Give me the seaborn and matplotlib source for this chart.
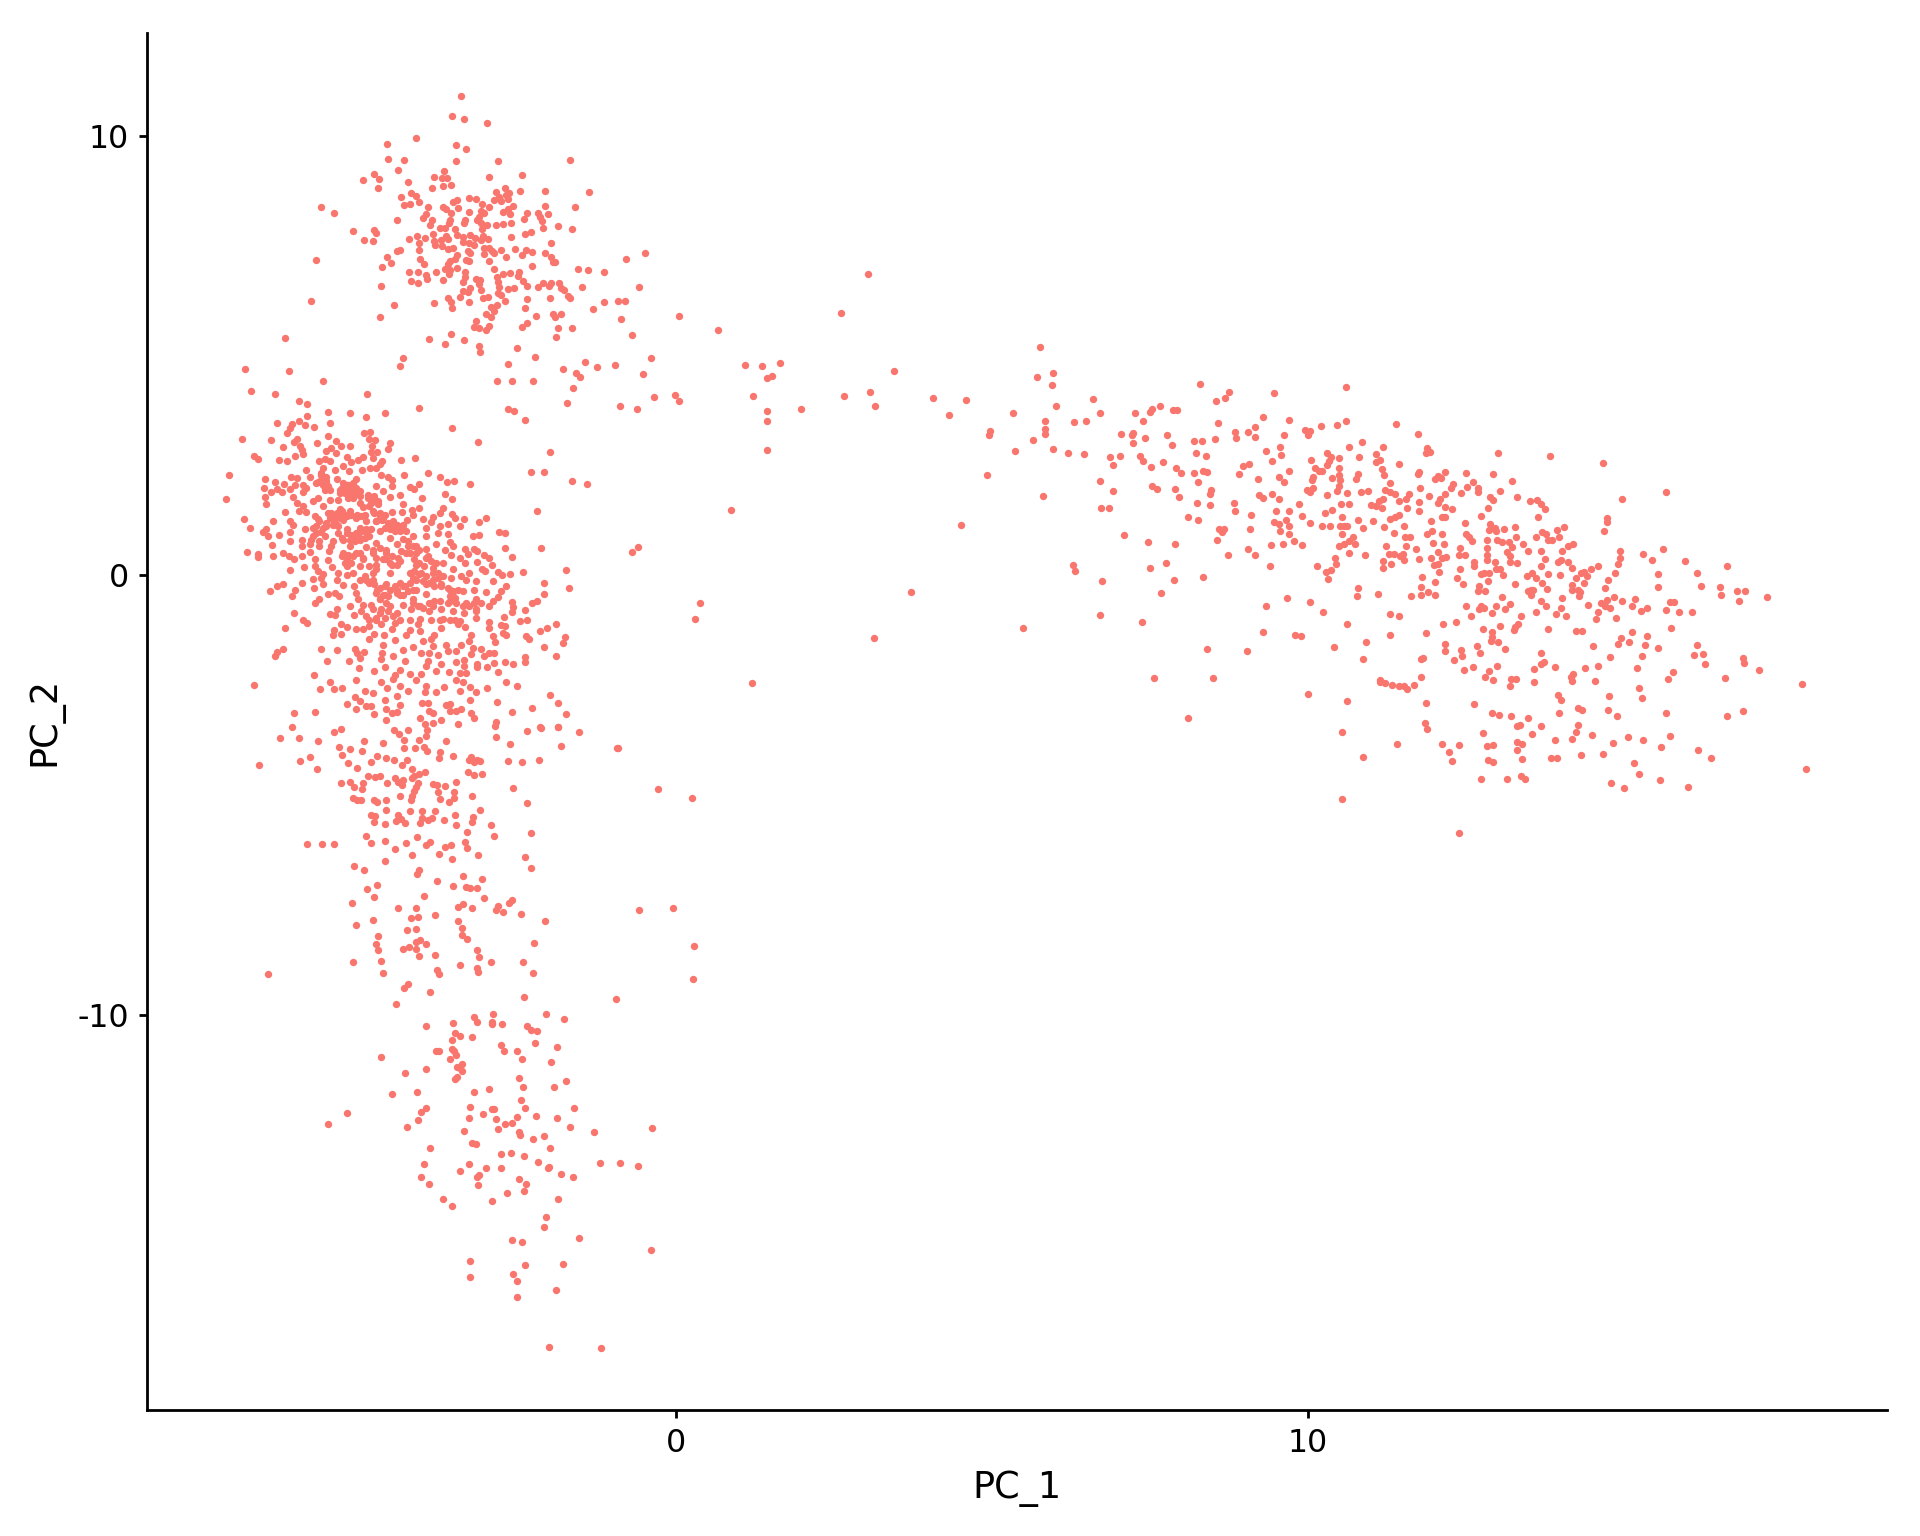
import matplotlib
matplotlib.use("Agg")
import matplotlib.pyplot as plt
import pandas as pd
import seaborn as sns

# (PC_1, PC_2), grouped by where the cells sit
top_cells = [
(-3.40,10.91),(-3.55,10.45),(-3.36,10.39),(-2.99,10.30),(-4.11,9.94),(-4.57,9.82),(-3.48,9.80),(-3.32,9.69),(-4.55,9.47),(-4.31,9.45),
(-3.48,9.42),(-2.82,9.42),(-1.68,9.44),(-4.40,9.23),(-3.67,9.20),(-4.78,9.14),(-2.43,9.10),(-2.96,9.07),(-3.82,9.06),(-3.70,9.03),
(-3.62,9.03),(-4.95,9.00),(-4.70,9.02),(-4.24,8.96),(-3.56,8.88),(-3.69,8.86),(-3.86,8.82),(-4.72,8.82),(-2.71,8.82),(-2.46,8.75),
(-2.07,8.75),(-1.37,8.71),(-2.85,8.72),(-2.64,8.70),(-2.69,8.66),(-4.19,8.69),(-4.12,8.64),(-4.35,8.60),(-2.80,8.60),(-2.65,8.56),
(-3.27,8.58),(-3.16,8.56),(-2.88,8.53),(-2.76,8.51),(-3.47,8.53),(-3.53,8.50),(-4.07,8.50),(-4.20,8.45),(-4.30,8.42),(-3.07,8.44),
(-2.57,8.41),(-2.07,8.41),(-3.92,8.38),(-3.69,8.38),(-2.95,8.38),(-5.61,8.37),(-3.44,8.36),(-1.59,8.37),(-5.41,8.25),(-3.64,8.34),
(-3.09,8.30),(-2.66,8.33),(-3.03,8.25),(-3.28,8.27),(-2.73,8.26),(-2.35,8.24),(-2.18,8.25),(-2.02,8.22),(-2.62,8.21),(-3.95,8.22),
(-3.56,8.24),(-4.00,8.14),(-3.86,8.09),(-4.41,8.09),(-3.33,8.09),(-3.11,8.16),(-3.14,8.09),(-3.57,8.09),(-2.15,8.16),(-2.40,8.10),
(-2.12,8.07),(-3.89,7.97),(-3.59,8.01),(-3.36,8.01),(-2.61,8.02),(-3.09,8.01),(-2.85,7.97),(-2.99,7.96),(-2.73,8.00),(-1.87,7.94),
(-3.74,7.91),(-2.10,7.90),(-3.66,7.90),(-3.49,7.89),(-3.06,7.87),(-1.64,7.87),(-4.77,7.85),(-5.11,7.84),(-4.75,7.78),(-2.30,7.81),
(-2.38,7.77),(-3.84,7.77),(-3.46,7.74),(-3.25,7.74),(-4.10,7.72),(-3.64,7.73),(-2.61,7.70),(-3.05,7.71),(-3.37,7.69),(-3.97,7.67),
(-2.97,7.66),(-3.18,7.67),(-3.61,7.65),(-4.22,7.65),(-4.93,7.62),(-4.79,7.60),(-3.83,7.61),(-3.71,7.63),(-3.37,7.58),(-3.08,7.62),
(-4.06,7.56),(-1.98,7.56),(-3.81,7.52),(-3.70,7.50),(-3.19,7.51),(-3.27,7.55),(-3.53,7.44),(-3.60,7.43),(-3.03,7.45),(-2.96,7.44),
(-4.06,7.40),(-4.37,7.40),(-4.41,7.37),(-2.76,7.40),(-2.55,7.43),(-0.49,7.34),(-3.29,7.38),(-3.26,7.33),(-2.91,7.38),(-2.88,7.33),
(-2.37,7.39),(-2.27,7.36),(-3.04,7.31),(-2.44,7.29),(-2.07,7.33),(-3.47,7.28),(-2.69,7.24),(-4.57,7.25),(-1.98,7.25),(-0.79,7.20),
(-4.05,7.20),(-3.50,7.19),(-3.32,7.17),(-3.27,7.15),(-2.96,7.14),(-1.95,7.13),(-1.91,7.13),(-5.69,7.17),(-3.58,7.16),(-4.51,7.11),
(-3.99,7.08),(-3.61,7.08),(-2.28,7.04),(-4.65,7.02),(-3.47,6.99),(-2.87,6.98),(-1.55,6.97),(-1.39,6.94),(-3.65,6.97),(-3.58,6.95),
(-4.08,6.91),(-4.22,6.89),(-3.80,6.91),(-3.33,6.91),(-1.13,6.90),(-2.74,6.86),(-2.63,6.87),(-2.48,6.90),(-3.59,6.85),(-3.95,6.84),
(-2.50,6.81),(-2.83,6.78),(-3.33,6.78),(-3.17,6.75),(-3.10,6.72),(-4.19,6.69),(-4.08,6.65),(-3.94,6.75),(-3.68,6.72),(-3.37,6.67),
(-2.42,6.69),(-2.82,6.67),(-2.11,6.66),(-1.98,6.66),(-1.85,6.64),(-4.67,6.59),(-3.12,6.63),(-2.35,6.59),(-2.01,6.59),(-1.48,6.56),
(-2.18,6.55),(-1.81,6.53),(-0.58,6.56),(-3.25,6.54),(-2.80,6.57),(-2.66,6.52),(-2.56,6.53),(-3.08,6.50),(-1.77,6.49),(-3.37,6.46),
(-2.82,6.43),(-3.29,6.44),(-3.42,6.34),(-1.70,6.36),(-2.76,6.37),(-2.97,6.34),(-3.05,6.31),(-3.61,6.31),(-1.99,6.31),(-1.68,6.31),
(-2.35,6.28),(-0.91,6.25),(-0.80,6.25),(-2.71,6.25),(-5.77,6.23),(-3.56,6.22),(-3.82,6.20),(-3.27,6.21),(-1.13,6.22),(-4.46,6.14),
(-2.83,6.14),(-2.92,6.10),(-3.54,6.07),(-2.38,6.07),(-1.31,6.05),(-2.88,6.02),(-1.95,5.94),(-1.82,5.94),(-3.01,5.94),(-2.21,5.91),
(0.05,5.91),(-4.68,5.88),(-2.92,5.88),(-1.91,5.87),(-0.87,5.83),(-3.16,5.78),(-2.35,5.75),(-3.19,5.65),(-2.96,5.67),(-2.44,5.65),
(-3.11,5.63),(-1.86,5.63),(-1.65,5.63),(-3.01,5.57),(-3.56,5.50),(-0.70,5.47),(-6.19,5.39),(-3.91,5.38),(-3.35,5.36),(-1.90,5.41),
(-3.65,5.26),(-3.11,5.22),(-2.52,5.18),(-3.10,5.09),(-2.23,4.97),(-0.39,4.95),(-4.32,4.94),(-4.37,4.76),(-1.43,4.86),(-2.65,4.81),
(-1.25,4.74),(-0.96,4.78),(-6.82,4.70),(-1.78,4.69),(-6.12,4.64),(-1.58,4.60),(-0.52,4.59),(-1.52,4.51),(-5.58,4.42),(-2.83,4.41),
(-2.59,4.43),(-2.26,4.41),(-1.62,4.27),(-6.72,4.19),(-6.35,4.13),(-4.89,4.13),(-0.02,4.10),(-0.34,4.06),(0.05,3.97),(-5.96,3.97),
(-5.84,3.89),(-1.72,3.91),(-0.89,3.86),(-4.07,3.80),(-2.66,3.78),(-2.56,3.74),(-0.61,3.78),(-5.50,3.72),(-5.15,3.69),(-4.60,3.68),
(-5.84,3.63),(-4.91,3.60),(-2.39,3.53),(-5.97,3.52),(-6.31,3.47),(-5.47,3.46),(-6.07,3.43),(-5.87,3.42),(-5.73,3.37),(-6.10,3.34),(-3.55,3.34),
]

core_cells = [
(-4.94,3.24),(-4.84,3.25),(-6.15,3.23),(-5.50,3.17),(-3.13,3.03),(-6.86,3.09),(-6.40,3.07),(-5.99,3.11),(-6.04,3.02),(-5.38,3.05),
(-4.85,3.10),(-4.76,3.07),(-5.68,3.00),(-5.30,2.95),(-5.16,2.95),(-4.53,3.00),(-4.81,2.93),(-4.55,2.87),(-6.22,2.91),(-5.95,2.93),
(-5.91,2.86),(-5.46,2.89),(-5.53,2.83),(-1.99,2.80),(-5.90,2.75),(-6.02,2.72),(-5.38,2.78),(-4.82,2.80),(-4.73,2.80),(-6.68,2.71),
(-6.61,2.64),(-6.28,2.63),(-6.15,2.60),(-5.21,2.69),(-4.95,2.69),(-5.03,2.63),(-4.35,2.62),(-4.13,2.66),(-5.64,2.60),(-5.56,2.64),
(-5.47,2.59),(-5.14,2.58),(-4.79,2.67),(-4.65,2.59),(-5.27,2.48),(-4.69,2.52),(-4.84,2.45),(-4.75,2.43),(-5.85,2.39),(-5.58,2.44),
(-5.40,2.40),(-5.18,2.37),(-4.97,2.40),(-3.92,2.32),(-2.29,2.35),(-2.09,2.35),(-7.08,2.27),(-6.51,2.20),(-6.09,2.23),(-5.99,2.21),
(-5.79,2.23),(-5.62,2.27),(-5.54,2.23),(-4.31,2.27),(-3.73,2.24),(-4.67,2.27),(-4.56,2.24),(-5.36,2.19),(-5.06,2.19),(-6.34,2.13),
(-3.62,2.11),(-3.51,2.14),(-1.65,2.14),(-1.41,2.08),(-3.26,2.07),(-4.50,2.17),(-6.20,2.08),(-6.03,2.06),(-5.90,2.06),(-5.69,2.10),
(-5.58,2.10),(-5.21,2.06),(-5.11,2.06),(-4.74,2.04),(-4.50,2.02),(-4.21,2.01),(-4.07,2.07),(-6.52,1.99),(-6.31,1.96),(-6.11,1.96),
(-5.85,1.99),(-5.53,2.02),(-4.14,1.97),(-6.41,1.89),(-6.24,1.90),(-5.90,1.89),(-5.32,1.95),(-5.21,1.91),(-5.00,1.91),(-4.64,1.91),
(-4.37,1.83),(-3.66,1.85),(-7.12,1.74),(-6.51,1.78),(-6.06,1.78),(-5.66,1.76),(-5.48,1.72),(-5.35,1.70),(-5.19,1.83),(-5.11,1.76),
(-4.87,1.76),(-4.77,1.81),(-4.53,1.78),(-4.01,1.75),(-3.55,1.73),(-6.48,1.63),(-6.00,1.64),(-5.74,1.68),(-5.00,1.64),(-4.82,1.64),
(-4.32,1.63),(-5.90,1.58),(-5.58,1.57),(-5.32,1.51),(-5.16,1.45),(-4.95,1.55),(-4.71,1.63),(-4.18,1.49),(-4.07,1.53),(-3.69,1.54),
(-5.96,1.45),(-5.85,1.43),(-6.19,1.44),(-5.50,1.42),(-4.79,1.45),(-4.69,1.42),(-4.49,1.43),(-4.33,1.43),(-3.73,1.42),(-3.55,1.40),
(-2.20,1.45),(-5.37,1.34),(-5.21,1.34),(-5.05,1.38),(-4.92,1.38),(-4.16,1.36),(-5.71,1.34),(-3.84,1.33),(-6.84,1.29),(-6.11,1.23),
(-5.66,1.27),(-5.42,1.25),(-5.27,1.25),(-4.64,1.30),(-4.48,1.23),(-4.26,1.25),(-4.00,1.27),(-3.50,1.30),(-3.35,1.29),(-3.00,1.30),
(-6.38,1.23),(-3.11,1.21),(-3.87,1.20),(-4.75,1.23),(-5.37,1.15),(-5.69,1.11),(-6.74,1.07),(-6.06,1.15),(-4.42,1.15),(-3.61,1.17),
(-3.41,1.13),(-6.48,1.05),(-5.87,1.06),(-5.74,1.08),(-5.53,1.11),(-5.21,1.04),(-5.00,1.08),(-4.69,1.00),(-4.53,1.08),(-4.32,1.04),
(-3.96,1.08),(-3.74,1.11),(-6.53,0.99),(-6.11,0.98),(-5.61,0.98),(-5.35,0.96),(-4.90,0.98),(-4.16,0.89),(-3.76,0.95),(-3.61,0.94),
(-2.80,0.99),(-2.71,0.96),(-3.21,0.90),(-3.11,0.92),(-6.45,0.89),(-6.28,0.91),(-5.74,0.89),(-5.11,0.89),(-4.53,0.85),(-4.32,0.83),
(-3.95,0.89),(-5.91,0.81),(-6.10,0.77),(-5.42,0.77),(-5.27,0.81),(-5.00,0.81),(-4.74,0.74),(-3.58,0.76),(-6.39,0.69),(-5.91,0.66),
(-5.79,0.70),(-5.64,0.66),(-5.45,0.66),(-5.16,0.66),(-4.90,0.64),(-4.42,0.70),(-4.24,0.66),(-4.11,0.66),(-3.79,0.70),(-3.53,0.67),
(-2.71,0.61),(-2.13,0.61),(-5.49,0.56),(-4.58,0.58),(-3.95,0.60),(-3.34,0.59),(-3.20,0.60),(-3.14,0.55),(-6.78,0.52),(-6.62,0.49),
(-6.22,0.51),(-5.79,0.52),(-5.27,0.51),(-5.06,0.51),(-4.79,0.51),(-4.27,0.51),(-4.11,0.51),(-3.66,0.58),(-3.56,0.47),(-3.29,0.49),
(-6.62,0.41),(-6.38,0.43),(-6.12,0.44),(-3.03,0.46),(-2.95,0.39),(-2.60,0.42),(-5.92,0.43),(-5.71,0.36),(-6.04,0.36),(-5.21,0.36),
(-4.95,0.39),(-4.58,0.36),(-4.37,0.32),(-3.95,0.39),(-3.41,0.39),(-5.51,0.35),(-3.14,0.30),(-3.34,0.27),(-2.91,0.24),(-3.69,0.28),
(-4.11,0.24),(-4.74,0.24),(-5.88,0.18),(-5.44,0.18),(-5.21,0.20),(-5.00,0.20),(-4.50,0.24),(-3.85,0.17),(-5.71,0.20),(-6.10,0.11),
(-5.66,0.09),(-3.52,0.13),(-3.07,0.13),(-3.02,0.10),(-2.42,0.08),(-1.74,0.12),(-5.35,0.05),(-5.11,0.05),(-4.79,0.05),(-4.53,0.04),
(-4.21,0.05),(-4.03,0.05),(-3.77,0.05),(-2.82,0.08),(-2.75,0.01),(-2.62,0.02),(-3.28,0.06),(-5.58,0.03),(-5.21,0.00),(-4.92,-0.02),
(-3.40,-0.02),(-5.74,-0.08),(-5.61,-0.06),(-5.37,-0.11),(-5.00,-0.10),(-4.79,-0.11),(-4.16,-0.06),(-3.85,-0.10),(-3.56,-0.07),(-3.32,-0.11),
(-3.16,-0.14),(-2.90,-0.14),(-5.92,-0.17),(-6.22,-0.20),(-5.59,-0.20),(-6.31,-0.24),(-5.27,-0.23),(-5.10,-0.25),(-4.58,-0.21),(-4.32,-0.25),
(-3.95,-0.21),(-3.71,-0.25),(-2.09,-0.18),(-2.68,-0.25),(-5.73,-0.30),(-6.02,-0.33),(-6.42,-0.36),(-4.73,-0.33),(-4.42,-0.33),(-4.11,-0.33),
(-3.58,-0.33),(-3.37,-0.36),(-3.20,-0.33),(-3.00,-0.39),(-1.69,-0.30),(-2.77,-0.36),(-5.50,-0.42),(-5.40,-0.40),(-5.33,-0.48),(-5.06,-0.40),
(-4.61,-0.44),(-4.37,-0.46),(-3.95,-0.42),(-3.53,-0.48),(-6.07,-0.48),(-2.08,-0.43),(-2.82,-0.49),(-5.03,-0.55),(-4.69,-0.55),(-4.16,-0.55),
(-3.82,-0.59),(-3.58,-0.59),(-3.16,-0.55),(-2.90,-0.59),(-2.59,-0.61),(-2.19,-0.58),(-5.65,-0.55),(-5.71,-0.64),(-2.28,-0.64),(-5.16,-0.70),
(-4.95,-0.67),(-4.82,-0.67),(-4.53,-0.70),(-4.32,-0.67),(-4.05,-0.70),(-3.37,-0.70),(-3.08,-0.64),(-2.96,-0.70),(-5.37,-0.76),(-4.98,-0.82),
(-4.66,-0.78),(-4.42,-0.86),(-4.19,-0.78),(-3.90,-0.82),(-3.71,-0.78),(-3.53,-0.82),(-3.16,-0.78),(-2.58,-0.73),(-2.38,-0.79),(-2.60,-0.83),
(-6.05,-0.85),(-5.47,-0.89),(-5.40,-0.91),(-5.10,-0.91),(-4.90,-0.93),(-4.74,-0.97),(-4.61,-0.97),(-4.37,-1.02),(-4.21,-1.01),(-4.05,-0.99),
(-3.87,-1.01),(-3.69,-0.99),(-3.50,-1.01),(-3.16,-0.97),(-2.72,-0.96),(-2.46,-1.04),(-2.36,-1.01),(-5.90,-1.03),(-5.84,-1.08),(-5.30,-1.10),
(-2.96,-1.07),(-1.90,-1.10),(-4.66,-1.12),(-4.45,-1.08),(-4.08,-1.12),(-3.45,-1.12),(-3.34,-1.18),(-2.76,-1.14),(-2.70,-1.16),(-6.19,-1.20),
(-5.21,-1.17),(-4.85,-1.16),(-4.49,-1.22),(-4.21,-1.25),(-4.05,-1.27),(-3.71,-1.20),(-2.95,-1.20),(-2.04,-1.20),(-2.15,-1.27),(-5.41,-1.25),
(-5.06,-1.23),(-4.95,-1.23),(-2.74,-1.31),(-5.30,-1.33),(-5.42,-1.37),(-4.77,-1.33),(-4.62,-1.36),(-4.27,-1.37),(-3.82,-1.35),(-3.24,-1.35),
(-2.90,-1.39),(-2.69,-1.37),(-2.37,-1.39),(-1.75,-1.41),(-4.86,-1.46),(-4.44,-1.48),(-4.00,-1.50),(-3.87,-1.46),(-3.27,-1.50),(-2.86,-1.51),
(-2.32,-1.46),(-1.79,-1.55),(-4.64,-1.60),(-3.64,-1.58),(-3.40,-1.58),(-5.61,-1.67),(-5.37,-1.70),(-5.07,-1.67),(-4.16,-1.63),(-4.32,-1.70),
(-3.85,-1.61),(-3.21,-1.65),(-3.08,-1.69),(-2.09,-1.63),(-6.22,-1.69),(-6.32,-1.75),(-6.34,-1.85),(-5.04,-1.77),(-4.93,-1.74),(-4.65,-1.77),
(-4.03,-1.77),(-3.90,-1.77),(-3.61,-1.73),(-3.48,-1.73),(-3.24,-1.80),(-2.95,-1.77),(-2.88,-1.77),(-4.47,-1.83),(-1.89,-1.83),(-3.03,-1.83),
(-5.00,-1.88),(-4.66,-1.90),(-3.77,-1.82),(-3.35,-1.92),(-2.38,-1.86),(-5.52,-1.96),(-5.18,-1.96),(-3.92,-1.95),(-2.70,-1.98),(-2.39,-1.98),
(-2.88,-1.99),(-2.58,-2.02),(-4.29,-1.95),(-3.48,-1.98),(-3.71,-2.01),(-3.15,-2.03),(-4.60,-2.09),(-5.02,-2.12),(-3.95,-2.07),(-2.99,-2.10),
(-3.35,-2.07),(-4.78,-2.17),(-4.37,-2.16),(-3.79,-2.18),(-3.59,-2.20),(-3.15,-2.09),(-2.82,-2.20),(-3.41,-2.23),(-3.32,-2.22),(-5.72,-2.28),
(-4.45,-2.28),(-4.21,-2.26),(-4.03,-2.26),(-5.06,-2.38),(-6.68,-2.51),(-4.67,-2.42),(-5.47,-2.42),(-4.48,-2.37),(-4.11,-2.39),(-3.48,-2.38),
(-3.37,-2.42),(-2.68,-2.44),(-2.51,-2.53),(-5.63,-2.60),(-5.41,-2.60),(-5.29,-2.57),(-4.37,-2.52),(-3.95,-2.52),(-3.67,-2.54),(-3.25,-2.54),
(-2.99,-2.56),(-4.57,-2.56),(-4.92,-2.64),(-4.79,-2.67),(-4.24,-2.64),(-3.97,-2.66),(-3.80,-2.66),(-3.42,-2.63),(-3.16,-2.66),(-5.08,-2.77),
(-4.42,-2.75),(-3.26,-2.83),(-4.60,-2.84),(-2.83,-2.88),(-1.99,-2.73),(-1.87,-2.91),(-5.20,-2.94),(-5.00,-2.86),(-4.37,-2.96),(-4.02,-2.91),
(-3.92,-2.90),(-3.64,-2.95),(-3.57,-2.94),(-5.06,-3.05),(-4.90,-2.98),(-4.82,-2.98),(-4.59,-3.05),(-3.57,-3.09),(-3.48,-3.08),(-3.40,-3.05),
(-2.28,-3.02),(-6.04,-3.14),(-5.71,-3.11),(-4.77,-3.17),(-4.50,-3.13),(-4.41,-3.11),(-3.90,-3.09),(-3.85,-3.13),(-3.24,-3.14),(-2.60,-3.12),
(-1.74,-3.17),(-4.58,-3.30),(-4.05,-3.24),(-3.20,-3.26),(-3.71,-3.30),(-3.97,-3.38),(-3.85,-3.36),(-3.45,-3.39),(-2.85,-3.34),(-2.86,-3.43),
(-6.08,-3.45),(-2.15,-3.45),(-1.87,-3.45),
]

# the solid clumps inside the left blob, where dots overlap
clump_cells = [
(-5.61,2.33),(-5.57,2.24),(-5.62,2.16),(-5.54,2.14),(-5.59,2.06),(-5.50,2.04),(-5.66,2.11),(-5.56,1.95),(-5.48,1.95),(-5.27,2.10),
(-5.19,2.06),(-5.11,2.10),(-5.29,1.99),(-5.21,1.96),(-5.14,1.96),(-5.06,1.99),(-5.24,1.86),(-5.16,1.83),(-5.08,1.86),(-5.00,1.80),
(-5.19,1.76),(-5.32,1.87),(-4.87,1.83),(-4.79,1.76),(-4.71,1.68),(-4.85,1.57),(-5.45,1.42),(-5.37,1.42),(-5.29,1.45),(-5.48,1.30),
(-5.40,1.27),(-5.32,1.30),(-5.24,1.36),(-5.42,1.15),(-5.35,1.11),(-5.53,1.19),(-5.64,1.23),(-5.58,1.08),(-5.14,1.38),(-5.06,1.30),
(-4.98,1.34),(-4.90,1.23),(-4.77,1.42),(-4.69,1.34),(-4.61,1.36),(-4.74,1.23),(-4.65,1.25),(-4.56,1.19),(-4.48,1.15),(-4.40,1.11),
(-4.32,1.15),(-4.53,1.05),(-4.45,1.00),(-4.37,1.00),(-4.61,1.08),(-4.27,1.00),(-5.21,0.96),(-5.14,0.92),(-5.06,0.96),(-4.98,1.00),
(-4.90,1.04),(-5.16,0.80),(-5.08,0.77),(-5.00,0.85),(-4.92,0.85),(-4.85,0.89),(-5.29,0.85),(-4.82,1.04),(-5.69,0.96),(-5.56,0.89),
(-5.77,0.81),(-5.64,0.77),(-5.29,0.43),(-5.19,0.47),(-5.11,0.43),(-5.00,0.51),(-5.24,0.28),(-5.14,0.28),(-4.95,0.36),(-4.79,0.58),
(-4.69,0.62),(-4.58,0.51),(-4.50,0.43),(-4.40,0.39),(-4.74,0.39),(-4.64,0.36),(-4.53,0.28),(-4.42,0.24),(-4.85,0.20),(-4.74,0.13),
(-4.35,0.55),(-4.24,0.77),(-4.16,0.66),(-4.06,0.58),(-3.92,0.43),(-4.21,0.51),(-4.14,0.36),(-4.06,0.28),(-3.98,0.20),(-3.87,0.32),
(-3.79,0.28),(-4.14,0.09),(-4.06,0.02),(-3.95,-0.02),(-3.85,0.05),(-3.77,-0.06),(-3.69,-0.02),(-3.90,-0.17),(-3.82,-0.25),(-3.71,-0.21),
(-4.11,-0.10),(-4.00,-0.14),(-4.77,-0.21),(-4.69,-0.29),(-4.61,-0.25),(-4.53,-0.33),(-4.45,-0.25),(-4.37,-0.17),(-4.29,-0.25),(-4.21,-0.17),
(-4.74,-0.40),(-4.64,-0.44),(-4.56,-0.48),(-4.42,-0.40),(-4.32,-0.44),(-4.24,-0.36),(-4.69,-0.55),(-4.58,-0.63),(-4.16,-0.33),(-3.61,-0.29),
(-3.53,-0.36),(-3.45,-0.33),(-3.58,-0.48),(-3.50,-0.51),(-3.61,-0.63),(-3.48,-0.63),(-3.27,-0.70),(-3.19,-0.63),(-3.32,-0.63),(-3.16,-0.82),
(-3.35,-0.86),(-4.16,-0.63),(-4.08,-0.70),(-4.00,-0.74),(-3.90,-0.63),(-3.85,-0.70),(-3.74,-0.59),(-4.79,-0.78),(-4.69,-0.86),(-4.56,-0.82),
(-4.48,-0.93),(-4.85,-1.01),(-4.74,-1.01),(-3.74,-1.01),(-3.58,-1.01),(-3.42,-1.05),(-4.90,-0.10),(-4.85,-0.17),
]

tail_cells = [
(-6.27,-3.71),(-5.97,-3.70),(-5.66,-3.77),(-5.41,-3.56),(-5.30,-3.51),(-4.46,-3.53),(-4.38,-3.61),(-4.24,-3.52),(-3.94,-3.52),(-3.95,-3.65),
(-4.31,-3.74),(-4.07,-3.75),(-3.64,-3.77),(-4.93,-3.78),(-4.64,-3.81),(-2.84,-3.68),(-2.35,-3.54),(-2.14,-3.47),(-1.86,-3.45),(-1.53,-3.57),
(-2.63,-3.85),(-1.82,-3.89),(-0.93,-3.94),(-5.33,-3.92),(-5.15,-3.96),(-4.96,-4.00),(-4.31,-3.93),(-4.13,-3.93),(-3.98,-3.90),(-3.94,-4.01),
(-3.73,-4.02),(-3.53,-4.11),(-3.75,-4.16),(-5.29,-4.10),(-4.73,-4.12),(-4.59,-4.16),(-4.46,-4.21),(-4.26,-4.21),(-5.79,-4.13),(-5.95,-4.24),
(-4.82,-4.25),(-5.19,-4.28),(-4.33,-4.31),(-3.28,-4.20),(-3.24,-4.14),(-3.20,-4.25),(-3.14,-4.20),(-3.10,-4.24),(-2.66,-4.23),(-2.44,-4.26),
(-2.16,-4.20),(-6.59,-4.32),(-5.68,-4.42),(-5.05,-4.39),(-4.17,-4.40),(-3.29,-4.49),(-3.20,-4.54),(-3.06,-4.53),(-3.97,-4.47),(-4.06,-4.52),
(-4.15,-4.56),(-4.18,-4.62),(-4.69,-4.56),(-4.76,-4.60),(-4.87,-4.57),(-4.45,-4.62),(-4.32,-4.66),(-4.40,-4.71),(-4.34,-4.77),(-4.57,-4.74),
(-5.16,-4.70),(-5.30,-4.74),(-4.95,-4.74),(-4.96,-4.86),(-5.09,-4.83),(-4.08,-4.74),(-4.11,-4.83),(-4.15,-4.92),(-4.17,-5.02),(-4.19,-5.12),
(-3.85,-4.76),(-3.78,-4.77),(-3.65,-4.80),(-3.48,-4.71),(-3.77,-4.93),(-3.51,-4.93),(-3.51,-5.06),(-3.73,-5.09),(-3.59,-5.16),(-4.36,-5.03),
(-3.22,-5.02),(-2.57,-4.85),(-2.36,-5.19),(-5.11,-5.06),(-5.05,-5.12),(-4.98,-5.12),(-4.78,-5.12),(-4.73,-5.16),(-4.58,-5.12),(-4.59,-5.34),
(-4.21,-5.36),(-4.01,-5.36),(-3.81,-5.37),(-3.10,-5.34),(-4.82,-5.46),(-4.76,-5.48),(-4.40,-5.46),(-3.50,-5.45),(-3.21,-5.50),(-4.02,-5.53),
(-3.93,-5.58),(-3.86,-5.53),(-3.67,-5.57),(-4.43,-5.60),(-4.35,-5.56),(-4.28,-5.64),(-4.78,-5.62),(-4.61,-5.66),(-4.05,-5.65),(-3.48,-5.68),
(-3.22,-5.62),(-2.92,-5.68),(-3.30,-5.84),(-2.29,-5.87),(-4.91,-5.93),(-2.87,-5.93),(-4.09,-5.97),(-5.84,-6.12),(-5.60,-6.12),(-5.41,-6.11),
(-4.82,-6.09),(-4.61,-6.05),(-4.27,-6.09),(-3.89,-6.07),(-3.95,-6.15),(-3.34,-6.07),(-3.56,-6.13),(-3.65,-6.18),(-3.31,-6.20),(-4.44,-6.23),
(-3.75,-6.34),(-4.18,-6.37),(-3.13,-6.37),(-3.54,-6.46),(-2.38,-6.42),(-2.29,-6.67),(-4.60,-6.50),(-5.09,-6.63),(-4.94,-6.70),(-4.07,-6.71),
(-4.09,-6.81),(-3.37,-6.84),(-3.07,-6.92),(-3.78,-6.96),(-4.73,-7.06),(-4.89,-7.14),(-3.53,-7.08),(-3.32,-7.09),(-3.25,-7.13),(-3.14,-7.12),
(-4.77,-7.32),(-3.98,-7.31),(-3.04,-7.35),(-2.60,-7.39),(-2.64,-7.47),(-5.13,-7.47),(-3.37,-7.49),(-3.45,-7.56),(-3.22,-7.58),(-4.39,-7.57),
(-4.11,-7.58),(-2.82,-7.54),(-2.84,-7.61),(-2.73,-7.66),(-2.45,-7.71),(-3.81,-7.73),(-0.59,-7.62),(-4.19,-7.81),(-4.08,-7.79),(-4.80,-7.84),
(-3.45,-7.86),(-2.07,-7.87),(-5.06,-7.96),(-4.25,-8.07),(-4.11,-8.05),(-3.38,-8.03),(-3.38,-8.20),(-4.71,-8.22),(-3.31,-8.29),(-4.12,-8.34),
(-4.05,-8.31),(-3.96,-8.39),(-2.24,-8.37),(-4.75,-8.39),(-4.32,-8.50),(-4.22,-8.47),(-4.12,-8.50),(-4.72,-8.52),(-3.15,-8.52),(-3.81,-8.65),
(-4.06,-8.67),(-3.11,-8.70),(-5.11,-8.80),(-4.66,-8.77),(-2.92,-8.81),(-2.42,-8.81),(-3.42,-8.88),(-3.14,-8.93),(-3.78,-8.99),(-3.75,-9.07),
(-3.13,-9.04),(-6.46,-9.07),(-4.63,-9.05),(-2.26,-9.06),(-4.24,-9.30),(-4.31,-9.40),(-3.89,-9.49),(-2.40,-9.59),(-0.94,-9.65),(-4.43,-9.75),
(-3.20,-10.05),(-2.90,-9.99),(-2.05,-9.98),(-1.77,-10.10),(-3.95,-10.25),(-3.52,-10.20),(-3.15,-10.18),(-2.91,-10.18),(-2.91,-10.21),(-2.75,-10.21),
(-2.36,-10.26),(-2.29,-10.35),(-2.19,-10.38),(-3.49,-10.41),(-3.42,-10.49),(-3.22,-10.50),(-3.55,-10.57),(-2.23,-10.64),(-1.88,-10.73),(-2.77,-10.69),
(-3.80,-10.83),(-3.75,-10.82),(-3.55,-10.79),(-3.51,-10.83),(-3.48,-10.91),(-2.72,-10.84),(-2.52,-10.83),(-4.66,-10.97),(-3.58,-11.02),(-2.44,-11.00),
(-1.97,-11.09),(-3.39,-11.12),(-3.46,-11.19),(-3.42,-11.21),(-3.39,-11.29),(-3.96,-11.24),(-4.28,-11.34),(-3.47,-11.41),(-3.49,-11.47),(-2.49,-11.44),
(-1.74,-11.52),(-2.42,-11.65),(-1.93,-11.65),(-2.95,-11.70),(-3.19,-11.77),(-4.10,-11.77),(-4.50,-11.81),(-2.45,-11.94),(-3.26,-12.10),(-3.95,-12.13),
(-4.04,-12.22),(-2.91,-12.14),(-2.88,-12.16),(-2.39,-12.13),(-1.61,-12.12),(-5.21,-12.25),(-2.22,-12.30),(-3.05,-12.26),(-3.28,-12.35),(-2.85,-12.37),
(-2.52,-12.33),(-1.88,-12.36),(-4.08,-12.39),(-5.51,-12.49),(-2.70,-12.50),(-2.59,-12.47),(-4.25,-12.56),(-1.67,-12.55),(-0.37,-12.58),(-2.81,-12.61),
(-3.36,-12.65),(-1.29,-12.68),(-2.49,-12.67),(-2.47,-12.74),(-2.09,-12.76),(-2.26,-12.84),(-3.22,-12.93),(-3.16,-12.94),(-3.89,-13.04),(-1.99,-13.04),
(-2.77,-13.18),(-2.61,-13.16),(-2.41,-13.23),(-2.18,-13.35),(-1.20,-13.37),(-0.88,-13.38),(-0.60,-13.44),(-3.99,-13.40),(-3.27,-13.41),(-3.00,-13.49),
(-2.76,-13.50),(-2.00,-13.46),(-2.03,-13.50),(-3.41,-13.57),(-1.82,-13.62),(-1.63,-13.69),(-3.12,-13.66),(-3.14,-13.70),(-4.03,-13.70),(-2.49,-13.75),
(-3.91,-13.86),(-3.13,-13.87),(-2.37,-13.86),(-2.41,-14.01),(-2.67,-14.05),(-3.69,-14.20),(-1.87,-14.20),(-2.91,-14.24),(-3.55,-14.35),(-2.05,-14.61),
(-2.08,-14.83),(-1.54,-15.08),(-2.59,-15.14),(-2.44,-15.18),(-0.40,-15.36),(-3.26,-15.62),(-2.38,-15.71),(-1.78,-15.67),(-2.58,-15.91),(-3.25,-15.97),
(-2.52,-16.07),(-1.89,-16.28),(-2.51,-16.42),(-2.01,-17.56),(-1.18,-17.58),
]

bridge_cells = [
(0.66,5.57),(1.10,4.79),(1.36,4.76),(1.65,4.82),(1.45,4.48),(1.53,4.54),(1.22,4.07),(1.45,3.73),(1.45,3.51),(1.98,3.79),
(1.45,2.84),(2.66,4.07),(2.62,5.96),(3.04,6.85),(3.08,4.18),(3.16,3.84),(3.45,4.65),(4.07,4.04),(4.32,3.65),(4.59,3.98),
(0.87,1.48),(0.39,-0.64),(0.31,-1.00),(1.20,-2.45),(3.72,-0.39),(3.14,-1.42),(4.52,1.14),(0.25,-5.07),(-0.29,-4.87),(-0.04,-7.58),
(0.29,-8.44),(0.27,-9.19),(-0.91,-3.93),(-0.70,0.53),(-0.60,0.64),(4.96,3.20),(4.98,3.29),(4.92,2.28),
]

right_cells = [
(5.76,5.20),(5.97,4.60),(5.71,4.50),(5.96,4.32),(8.30,4.35),(8.75,4.17),(8.55,3.97),(8.69,4.03),(9.46,4.14),(10.60,4.29),
(6.61,4.01),(6.01,3.85),(7.67,3.85),(7.54,3.78),(7.50,3.71),(7.94,3.77),(7.87,3.75),(7.27,3.68),(6.71,3.70),(5.33,3.68),
(9.29,3.60),(9.71,3.53),(5.85,3.50),(6.30,3.49),(6.49,3.51),(7.40,3.52),(8.58,3.46),(10.60,3.50),(10.47,3.41),(10.21,3.39),
(11.40,3.44),(9.16,3.38),(5.84,3.33),(5.85,3.22),(9.96,3.30),(10.04,3.28),(10.00,3.18),(9.05,3.26),(8.85,3.26),(7.05,3.22),
(7.23,3.24),(7.22,3.19),(7.78,3.20),(9.62,3.18),(9.16,3.15),(11.75,3.21),(7.42,3.13),(8.86,3.13),(8.54,3.10),(5.65,3.08),
(8.20,3.06),(8.33,3.06),(7.24,3.00),(7.86,2.97),(10.86,3.02),(9.56,2.91),(10.65,2.91),(11.20,2.92),(11.89,2.89),(5.97,2.88),
(5.37,2.83),(6.20,2.78),(9.34,2.83),(6.46,2.75),(8.23,2.78),(11.88,2.78),(11.93,2.80),(9.58,2.74),(6.87,2.70),(7.03,2.72),
(7.35,2.72),(8.39,2.71),(10.30,2.77),(11.09,2.75),(10.37,2.69),(10.49,2.66),(10.81,2.69),(11.15,2.63),(9.43,2.61),(10.06,2.62),
(7.40,2.60),(7.71,2.58),(10.34,2.60),(11.09,2.57),(9.07,2.53),(8.97,2.49),(6.92,2.50),(10.31,2.50),(11.45,2.53),(7.52,2.46),
(7.91,2.44),(10.11,2.44),(10.50,2.44),(11.18,2.41),(9.70,2.37),(10.18,2.37),(10.22,2.37),(8.34,2.36),(8.40,2.34),(7.99,2.32),
(8.20,2.32),(10.79,2.31),(11.77,2.35),(11.74,2.30),(11.21,2.29),(12.18,2.34),(8.91,2.30),(9.54,2.23),(10.38,2.22),(10.49,2.27),
(12.06,2.25),(12.11,2.22),(12.02,2.18),(10.77,2.18),(9.21,2.20),(10.09,2.24),(10.07,2.16),(6.71,2.15),(9.63,2.11),(8.27,2.12),
(10.51,2.16),(11.30,2.09),(10.50,2.03),(11.78,1.99),(7.54,2.02),(7.61,1.96),(7.90,1.96),(10.09,1.98),(9.99,1.95),(8.47,1.94),
(6.92,1.91),(10.04,1.89),(10.47,1.91),(10.84,1.89),(10.96,1.91),(11.23,1.94),(11.30,1.89),(10.63,1.87),(11.38,1.85),(5.81,1.81),
(8.45,1.84),(9.23,1.83),(9.44,1.85),(10.30,1.83),(11.61,1.84),(11.92,1.80),(9.30,1.75),(9.55,1.74),(7.96,1.77),(11.20,1.74),
(12.18,1.84),(11.55,1.73),(12.09,1.73),(11.45,1.68),(11.76,1.67),(11.13,1.69),(12.07,1.65),(8.25,1.64),(8.45,1.60),(8.84,1.64),
(9.86,1.61),(10.53,1.61),(10.66,1.63),(11.00,1.60),(11.08,1.57),(11.18,1.53),(6.73,1.54),(6.85,1.53),(11.57,1.53),(12.17,1.56),
(11.76,1.47),(8.85,1.47),(9.50,1.47),(9.70,1.47),(10.39,1.48),(10.28,1.41),(9.10,1.37),(11.45,1.37),(11.38,1.33),(11.30,1.29),
(12.13,1.32),(12.18,1.33),(8.10,1.33),(9.91,1.34),(10.54,1.32),(8.27,1.25),(10.80,1.25),(11.04,1.24),(9.66,1.25),(11.95,1.23),
(9.47,1.20),(9.55,1.17),(10.04,1.19),(11.52,1.12),(10.51,1.13),(10.57,1.13),(10.63,1.12),(10.36,1.13),(10.22,1.11),(9.70,1.11),
(11.21,1.09),(10.88,1.07),(9.09,1.05),(8.59,1.04),(8.67,1.05),(9.57,1.01),(8.65,0.98),(11.97,1.00),(12.12,0.94),(11.37,0.96),
(11.89,0.93),(10.55,0.94),(9.71,0.94),(7.10,0.91),(10.72,0.88),(11.54,0.87),(11.62,0.88),(8.56,0.81),(9.78,0.78),(7.48,0.75),
(7.90,0.72),(11.98,0.74),(12.16,0.72),(10.66,0.78),(10.58,0.71),(10.50,0.66),(9.42,0.69),(9.61,0.70),(9.91,0.69),(10.75,0.71),
(11.56,0.67),(11.24,0.66),(11.71,0.60),(9.06,0.60),(12.07,0.52),(8.74,0.46),(9.17,0.46),(10.66,0.50),(10.91,0.46),(11.29,0.48),
(11.36,0.48),(11.51,0.49),(11.46,0.44),(10.43,0.38),(11.19,0.33),(11.52,0.34),(11.77,0.36),(11.95,0.38),(12.13,0.38),(12.19,0.41),
(6.28,0.24),(7.76,0.28),(11.32,0.25),(10.45,0.25),(10.15,0.22),(12.00,0.24),(12.07,0.25),(7.50,0.16),(9.40,0.20),(11.20,0.16),
(6.32,0.09),(10.37,0.12),(10.29,0.08),(12.08,0.08),(8.34,-0.05),(6.74,-0.13),(7.88,-0.12),(10.33,-0.09),(11.81,-0.04),(12.02,-0.16),
(11.80,-0.28),(10.79,-0.30),(7.68,-0.41),(11.11,-0.42),(11.91,-0.38),(11.80,-0.44),(12.01,-0.44),(10.78,-0.48),(11.64,-0.48),(9.68,-0.53),
(10.04,-0.62),(9.34,-0.71),(10.24,-0.84),(6.72,-0.90),(11.30,-0.89),(11.44,-0.94),(7.38,-1.06),(10.62,-1.10),(5.50,-1.20),(12.15,-1.12),
(9.29,-1.29),(9.80,-1.37),(9.89,-1.39),(11.88,-1.31),(11.31,-1.36),(10.93,-1.52),(12.18,-1.57),(10.41,-1.63),(8.40,-1.69),(9.04,-1.72),
(12.18,-1.72),(10.87,-1.91),(11.79,-1.90),(11.82,-1.88),(7.57,-2.33),(8.50,-2.33),(11.80,-2.31),(11.14,-2.38),(8.10,-3.26),(10.00,-2.70),
(10.62,-2.87),(10.54,-3.57),(10.54,-5.10),(11.34,-2.51),(11.53,-2.53),(11.22,-2.45),(11.86,-3.37),
]

far_right_cells = [
(13.02,2.78),(13.84,2.71),(14.68,2.56),(15.68,1.89),(12.51,2.33),(12.93,2.30),(13.23,2.15),(12.62,2.12),(12.30,2.07),(12.27,1.98),
(12.52,2.01),(12.70,1.98),(12.69,1.89),(13.04,1.91),(12.42,1.88),(14.98,1.73),(13.31,1.78),(12.89,1.78),(12.94,1.70),(13.52,1.69),
(13.63,1.72),(13.69,1.63),(12.28,1.50),(12.85,1.52),(13.75,1.50),(12.74,1.35),(13.64,1.32),(14.74,1.31),(14.74,1.20),(12.49,1.18),
(12.88,1.16),(13.28,1.10),(14.05,1.10),(12.96,1.07),(13.11,1.05),(12.87,1.03),(12.98,1.01),(13.95,1.02),(14.69,1.00),(13.71,0.99),
(13.77,0.94),(12.50,0.94),(12.55,0.88),(13.98,0.88),(13.61,0.88),(13.30,0.87),(12.60,0.78),(12.84,0.79),(13.00,0.81),(13.08,0.76),
(13.19,0.75),(13.80,0.81),(13.86,0.80),(14.20,0.70),(14.12,0.66),(13.41,0.70),(13.24,0.64),(12.84,0.63),(12.41,0.62),(15.62,0.59),
(13.49,0.56),(13.70,0.55),(14.03,0.55),(14.94,0.54),(15.31,0.48),(13.15,0.52),(12.49,0.47),(12.84,0.47),(12.40,0.46),(13.21,0.43),
(14.95,0.38),(15.45,0.35),(15.97,0.33),(13.75,0.36),(14.01,0.35),(12.84,0.35),(12.97,0.30),(14.12,0.31),(13.97,0.29),(13.21,0.29),
(13.31,0.27),(12.63,0.29),(14.91,0.26),(12.63,0.21),(16.63,0.21),(13.69,0.20),(14.59,0.22),(14.48,0.15),(14.18,0.16),(12.41,0.13),
(12.98,0.13),(13.05,0.14),(14.37,0.07),(14.32,0.05),(14.87,0.05),(16.17,0.06),(12.87,0.06),(12.79,0.05),(12.74,0.03),(13.55,0.05),
(13.80,0.02),(15.55,0.02),(13.10,0.01),(14.00,0.00),(13.47,-0.01),(13.61,-0.06),(14.42,-0.01),(14.24,-0.06),(12.36,-0.06),(14.76,-0.10),
(12.46,-0.19),(12.85,-0.14),(13.71,-0.18),(14.37,-0.18),(14.19,-0.22),(13.29,-0.20),(15.54,-0.26),(16.22,-0.25),(16.52,-0.28),(14.71,-0.30),
(12.71,-0.24),(14.18,-0.33),(13.79,-0.32),(13.53,-0.33),(13.48,-0.37),(13.57,-0.34),(12.70,-0.35),(12.80,-0.35),(14.28,-0.33),(16.79,-0.36),
(16.92,-0.37),(13.53,-0.44),(14.31,-0.39),(14.29,-0.47),(16.55,-0.46),(13.07,-0.50),(14.03,-0.52),(17.27,-0.50),(14.85,-0.49),(15.18,-0.54),
(14.97,-0.58),(16.83,-0.58),(13.70,-0.59),(14.74,-0.56),(14.64,-0.64),(15.73,-0.62),(15.80,-0.62),(14.43,-0.68),(13.21,-0.65),(13.78,-0.70),
(12.50,-0.70),(12.98,-0.71),(12.74,-0.69),(14.71,-0.69),(14.01,-0.75),(15.14,-0.70),(15.37,-0.74),(14.78,-0.74),(12.79,-0.75),(12.71,-0.77),
(13.12,-0.77),(15.68,-0.80),(15.88,-0.83),(16.08,-0.84),(15.28,-0.82),(13.62,-0.84),(14.60,-0.84),(13.93,-0.88),(12.92,-0.87),(14.09,-0.92),
(13.38,-0.93),(12.58,-0.92),(14.57,-1.00),(14.88,-0.97),(12.35,-1.06),(13.33,-1.12),(13.05,-1.15),(13.29,-1.18),(13.27,-1.25),(15.75,-1.21),
(12.78,-1.23),(13.81,-1.22),(14.25,-1.28),(14.34,-1.27),(15.13,-1.29),(12.92,-1.30),(12.92,-1.40),(15.37,-1.39),(14.96,-1.42),(15.09,-1.53),
(14.92,-1.56),(12.90,-1.50),(13.02,-1.51),(15.34,-1.59),(16.17,-1.59),(12.68,-1.62),(14.52,-1.62),(15.54,-1.66),(13.13,-1.68),(12.43,-1.71),
(13.70,-1.76),(12.73,-1.78),(12.45,-1.84),(16.12,-1.81),(16.25,-1.79),(15.30,-1.84),(14.78,-1.87),(16.89,-1.88),(12.32,-1.93),(13.74,-1.97),
(13.69,-2.03),(16.90,-2.00),(16.29,-2.03),(13.00,-2.06),(12.62,-2.09),(13.92,-2.09),(14.60,-2.07),(14.39,-2.12),(15.21,-2.11),(12.47,-2.15),
(13.58,-2.14),(12.87,-2.19),(17.14,-2.16),(14.20,-2.24),(15.78,-2.21),(14.17,-2.32),(12.80,-2.31),(16.60,-2.34),(15.70,-2.36),(13.22,-2.37),
(13.30,-2.37),(12.94,-2.39),(14.55,-2.40),(14.18,-2.41),(13.59,-2.43),(13.21,-2.52),(17.82,-2.47),(15.25,-2.56),(11.14,-2.43),(11.45,-2.52),
(11.58,-2.58),(11.69,-2.51),(13.97,-2.72),(14.01,-2.84),(14.77,-2.75),(15.29,-2.79),(11.88,-2.90),(12.63,-2.94),(14.76,-3.06),(14.28,-3.03),
(14.34,-3.07),(12.92,-3.14),(13.03,-3.18),(13.98,-3.14),(15.68,-3.13),(16.63,-3.20),(16.89,-3.09),(14.90,-3.21),(13.22,-3.21),(13.48,-3.26),
(13.31,-3.43),(13.36,-3.40),(13.69,-3.44),(14.28,-3.42),(11.89,-3.50),(14.25,-3.57),(12.77,-3.59),(13.55,-3.61),(14.50,-3.63),(15.74,-3.66),
(15.07,-3.68),(14.18,-3.72),(15.31,-3.74),(13.92,-3.76),(11.41,-3.84),(12.13,-3.85),(13.32,-3.79),(13.39,-3.84),(14.83,-3.81),(12.39,-3.87),
(12.84,-3.88),(12.93,-3.86),(15.60,-3.90),(13.31,-3.97),(16.18,-3.99),(12.24,-4.03),(14.32,-4.09),(14.68,-4.08),(10.88,-4.14),(16.39,-4.15),
(13.85,-4.17),(13.95,-4.17),(13.40,-4.19),(12.28,-4.22),(12.85,-4.20),(12.93,-4.25),(15.17,-4.27),(15.24,-4.52),(17.89,-4.40),(13.37,-4.56),
(13.44,-4.65),(13.15,-4.64),(12.75,-4.65),(14.80,-4.72),(15.58,-4.67),(15.01,-4.84),(16.02,-4.81),(12.39,-5.86),
]

x_ticks = [0, 10]
y_ticks = [-10, 0, 10]

cells = pd.DataFrame(top_cells + core_cells + clump_cells + tail_cells + bridge_cells + right_cells + far_right_cells,
                     columns=["PC_1", "PC_2"])

sns.set_style("ticks")
plt.rcParams["axes.unicode_minus"] = False

fig = plt.figure(figsize=(9.6, 7.68), dpi=200)
ax = fig.add_axes([147 / 1920, 1 - 1410 / 1536, (1887 - 147) / 1920, (1410 - 33) / 1536])

sns.scatterplot(data=cells, x="PC_1", y="PC_2", color="#F8766D", s=7, linewidth=0, ax=ax)

ax.set_xlim(-8.37, 19.17)
ax.set_ylim(-19.0, 12.34)
ax.set_xticks(x_ticks)
ax.set_yticks(y_ticks)
ax.tick_params(labelsize=11.4, length=3, width=1, color="black", labelcolor="black")
ax.set_xlabel("PC_1", fontsize=13.2, color="black")
ax.set_ylabel("PC_2", fontsize=13.2, color="black", labelpad=5)
for side in ["left", "bottom"]:
    ax.spines[side].set_linewidth(1)
    ax.spines[side].set_color("black")
sns.despine(ax=ax)

fig.savefig("out.png", dpi=200)
